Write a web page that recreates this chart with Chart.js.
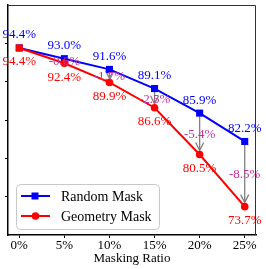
<!DOCTYPE html>
<html>
<head>
<meta charset="utf-8">
<script src="https://cdn.jsdelivr.net/npm/chart.js@4/dist/chart.umd.min.js"></script>
<style>
  html, body { margin: 0; padding: 0; background: #fff; }
  #wrap { width: 266px; height: 269px; }
</style>
</head>
<body>
<div id="wrap"><canvas id="my-chart" width="266" height="269"></canvas></div>
<script>
// data
const mask_ratios = [0, 5, 10, 15, 20, 25];
const x_tick_values = [0, 5, 10, 15, 20, 25];
const y_tick_values = [75, 80, 85, 90, 95];
const random_mask = [94.4, 93.0, 91.6, 89.1, 85.9, 82.2];
const geometry_mask = [94.4, 92.4, 89.9, 86.6, 80.5, 73.7];
const drop_labels = ["", "-0.6%", "-1.7%", "-2.5%", "-5.4%", "-8.5%"];
const series_names = ["Random Mask", "Geometry Mask"];

const serif = "'Liberation Serif', 'Times New Roman', serif";
const blue = "#0000ff";
const red = "#ff0000";
const drop_color = "#c8329b";
const arrow_color = "#808080";

// arrows between the two series
const arrowsPlugin = {
    id: "arrows",
    beforeDatasetsDraw(chart) {
        const ctx = chart.ctx;
        const xs = chart.scales.x, ys = chart.scales.y;
        ctx.save();
        ctx.strokeStyle = arrow_color;
        ctx.lineWidth = 1.3;
        for (let i = 1; i < mask_ratios.length; i++) {
            const px = xs.getPixelForValue(mask_ratios[i]);
            const y0 = ys.getPixelForValue(random_mask[i]) + 3;
            const y1 = ys.getPixelForValue(geometry_mask[i]) - 4;
            if (y1 - y0 < 2) continue;
            ctx.beginPath();
            ctx.moveTo(px, y0);
            ctx.lineTo(px, y1);
            ctx.moveTo(px - 4, y1 - 8);
            ctx.lineTo(px, y1);
            ctx.lineTo(px + 4, y1 - 8);
            ctx.stroke();
        }
        ctx.restore();
    }
};

// value labels, frame and legend
const labelsPlugin = {
    id: "labels",
    afterDatasetsDraw(chart) {
        const ctx = chart.ctx;
        const xs = chart.scales.x, ys = chart.scales.y;
        const area = chart.chartArea;
        ctx.save();
        ctx.font = "13px " + serif;
        ctx.textAlign = "center";
        ctx.textBaseline = "middle";
        for (let i = 0; i < mask_ratios.length; i++) {
            const px = xs.getPixelForValue(mask_ratios[i]);
            const yb = ys.getPixelForValue(random_mask[i]);
            const yr = ys.getPixelForValue(geometry_mask[i]);
            ctx.fillStyle = blue;
            ctx.fillText(random_mask[i].toFixed(1) + "%", px, yb - 13);
            ctx.fillStyle = red;
            ctx.fillText(geometry_mask[i].toFixed(1) + "%", px, yr + 14);
            if (drop_labels[i]) {
                ctx.fillStyle = drop_color;
                ctx.fillText(drop_labels[i], px, (yb + yr) / 2 + 1);
            }
        }

        // top and right border
        ctx.strokeStyle = "#333";
        ctx.lineWidth = 1;
        ctx.beginPath();
        ctx.moveTo(area.left, area.top + 0.5);
        ctx.lineTo(area.right - 0.5, area.top + 0.5);
        ctx.lineTo(area.right - 0.5, area.bottom);
        ctx.stroke();

        // legend box
        const lx = 16, ly = 184, lw = 143, lh = 45;
        ctx.fillStyle = "rgba(255,255,255,0.85)";
        ctx.strokeStyle = "#c8c8c8";
        ctx.lineWidth = 1;
        ctx.beginPath();
        ctx.roundRect(lx + 0.5, ly + 0.5, lw, lh, 4);
        ctx.fill();
        ctx.stroke();
        const colors = [blue, red];
        const rows = [196, 216];
        ctx.font = "14px " + serif;
        ctx.textAlign = "left";
        for (let k = 0; k < 2; k++) {
            ctx.strokeStyle = colors[k];
            ctx.fillStyle = colors[k];
            ctx.lineWidth = 2;
            ctx.beginPath();
            ctx.moveTo(21, rows[k]);
            ctx.lineTo(50, rows[k]);
            ctx.stroke();
            if (k === 0) {
                ctx.fillRect(31.5, rows[k] - 3.5, 7, 7);
            } else {
                ctx.beginPath();
                ctx.arc(35.5, rows[k], 3.8, 0, Math.PI * 2);
                ctx.fill();
            }
            ctx.fillStyle = "#000";
            ctx.fillText(series_names[k], 61, rows[k] + 1);
        }
        ctx.restore();
    }
};

new Chart("my-chart", {
    type: "line",
    data: {
        datasets: [{
            label: series_names[0],
            data: mask_ratios.map((x, i) => ({ x: x, y: random_mask[i] })),
            borderColor: blue,
            backgroundColor: blue,
            borderWidth: 2,
            pointStyle: "rect",
            pointRadius: 5,
            pointBorderWidth: 0,
            order: 2
        }, {
            label: series_names[1],
            data: mask_ratios.map((x, i) => ({ x: x, y: geometry_mask[i] })),
            borderColor: red,
            backgroundColor: red,
            borderWidth: 2,
            pointStyle: ["rect", "circle", "circle", "circle", "circle", "circle"],
            pointRadius: [5, 3.8, 3.8, 3.8, 3.8, 3.8],
            pointBorderWidth: 0,
            order: 1
        }]
    },
    options: {
        responsive: false,
        animation: false,
        layout: { padding: { left: 0, right: 10, top: 3, bottom: 0 } },
        plugins: { legend: { display: false }, tooltip: { enabled: false } },
        scales: {
            x: {
                type: "linear",
                min: -1.25,
                max: 26.25,
                afterBuildTicks: (scale) => { scale.ticks = x_tick_values.map(v => ({ value: v })); },
                afterFit: (scale) => { scale.height = 34; },
                grid: { drawOnChartArea: false, drawTicks: true, tickLength: 3, color: "#000" },
                border: { color: "#000", width: 1.5 },
                ticks: {
                    color: "#000",
                    font: { family: serif, size: 13 },
                    padding: 0,
                    maxRotation: 0,
                    callback: (v) => v + "%"
                },
                title: {
                    display: true,
                    text: "Masking Ratio",
                    color: "#000",
                    font: { family: serif, size: 13 },
                    padding: { top: 0, bottom: 3 }
                }
            },
            y: {
                min: 70,
                max: 100,
                afterBuildTicks: (scale) => { scale.ticks = y_tick_values.map(v => ({ value: v })); },
                afterFit: (scale) => { scale.width = 8; },
                grid: { drawOnChartArea: false, drawTicks: true, tickLength: 3, color: "#000" },
                border: { color: "#000", width: 1.5 },
                ticks: { display: false }
            }
        }
    },
    plugins: [arrowsPlugin, labelsPlugin]
});
</script>
</body>
</html>
